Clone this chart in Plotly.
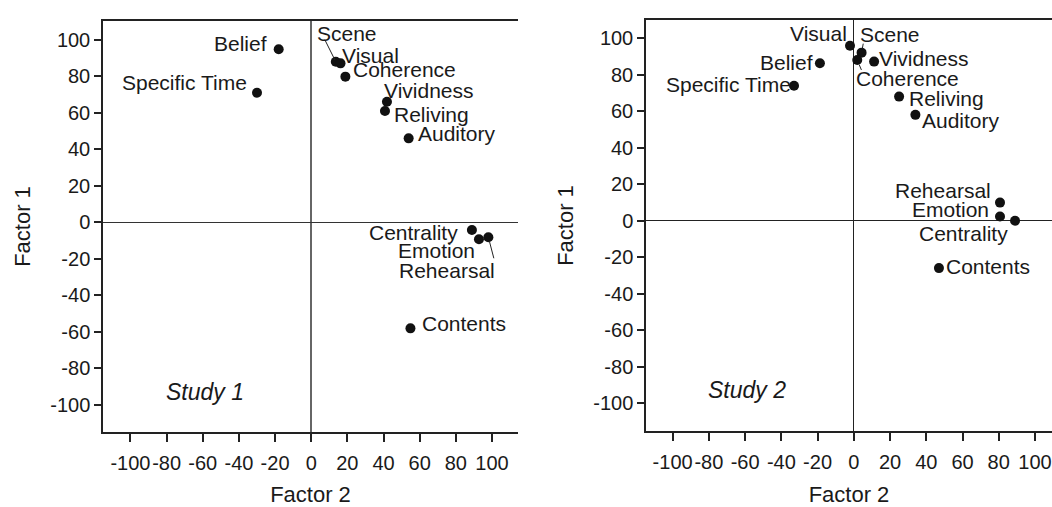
import plotly.graph_objects as go

# ---------------- data ----------------
labels1 = ["Belief", "Specific Time", "Scene", "Visual", "Coherence", "Vividness",
           "Reliving", "Auditory", "Centrality", "Emotion", "Rehearsal", "Contents"]
factor2_s1 = [-18, -30, 13.6, 16.2, 18.9, 41.9, 40.8, 53.9, 88.9, 92.8, 98, 54.9]
factor1_s1 = [94.9, 71.1, 88.1, 87.2, 79.9, 66.2, 61.1, 46.1, -4.1, -9.2, -8.1, -58]

labels2 = ["Visual", "Scene", "Coherence", "Vividness", "Belief", "Specific Time",
           "Reliving", "Auditory", "Rehearsal", "Emotion", "Centrality", "Contents"]
factor2_s2 = [-2.1, 4.3, 1.9, 11.2, -18.7, -33, 25, 34, 80.7, 80.7, 89, 47]
factor1_s2 = [95.9, 92.1, 88.1, 87.2, 86.3, 74, 68, 58, 9.9, 2.3, 0, -26]

tick_vals = [-100, -80, -60, -40, -20, 0, 20, 40, 60, 80, 100]
tick_text = ["-100", "-80", "-60", "-40", "-20", "0", "20", "40", "60", "80", "100"]

panel_titles = ["Study 1", "Study 2"]

# ---------------- label styling (pixel offsets from the dots) ----------------
# (xanchor, xshift, yshift)
lab_style1 = [("right", -11, 6), ("right", -9, 10), ("left", -20, 28), ("left", 0, 8),
              ("left", 7, 7), ("left", -4, 11), ("left", 8, -4), ("left", 8, 5),
              ("right", -13, -3), ("right", -3, -11), ("right", 8, -33), ("left", 11, 5)]
lab_style2 = [("right", -2, 12), ("left", -3, 18), ("left", -2, -19), ("left", 4, 3),
              ("right", -6, 1), ("right", -2, 1), ("left", 9, -2), ("left", 6, -6),
              ("right", -8, 12), ("right", -10, 7), ("right", -6, -13), ("left", 6, 2)]
# leader lines: (label index, ax, ay, standoff)
leaders1 = [(2, -12, -24, 2), (10, 6, 23, 4)]
leaders2 = [(1, 2, -11, 4), (2, 5, 12, 5)]

FONT = "Liberation Sans, Arial, sans-serif"
TXT = "#1a1a1a"
LAB = 21

fig = go.Figure()
fig.add_trace(go.Scatter(x=factor2_s1, y=factor1_s1, mode="markers", xaxis="x", yaxis="y",
                         marker=dict(color="#111", size=10), showlegend=False, hoverinfo="skip"))
fig.add_trace(go.Scatter(x=factor2_s2, y=factor1_s2, mode="markers", xaxis="x2", yaxis="y2",
                         marker=dict(color="#111", size=10), showlegend=False, hoverinfo="skip"))

annotations = []
for labels, xs, ys, styles, leaders, xr, yr in [
        (labels1, factor2_s1, factor1_s1, lab_style1, leaders1, "x", "y"),
        (labels2, factor2_s2, factor1_s2, lab_style2, leaders2, "x2", "y2")]:
    for lab, xv, yv, (xa, xs_, ys_) in zip(labels, xs, ys, styles):
        annotations.append(dict(x=xv, y=yv, xref=xr, yref=yr, text=lab, showarrow=False,
                                xanchor=xa, yanchor="middle", xshift=xs_, yshift=ys_,
                                borderpad=0,
                                font=dict(family=FONT, size=LAB, color=TXT)))
    for idx, ax, ay, so in leaders:
        annotations.append(dict(x=xs[idx], y=ys[idx], xref=xr, yref=yr, text=" ",
                                showarrow=True, arrowhead=0, arrowwidth=1, arrowcolor="#222",
                                ax=ax, ay=ay, standoff=so, font=dict(size=1)))

for title, xr, yr in [(panel_titles[0], "x", "y"), (panel_titles[1], "x2", "y2")]:
    annotations.append(dict(x=-59, y=-93, xref=xr, yref=yr, text="<i>" + title + "</i>",
                            showarrow=False, xanchor="center", yanchor="middle",
                            font=dict(family=FONT, size=23, color=TXT)))


def xaxis(domain, rng, zc, zw):
    return dict(domain=domain, range=rng, tickvals=tick_vals, ticktext=tick_text,
                ticks="outside", ticklen=8, tickwidth=1.5, tickcolor="#222", tickangle=0,
                ticklabelstandoff=4,
                showline=True, linewidth=1.5, linecolor="#222", mirror=True, automargin=False,
                showgrid=False, zeroline=True, zerolinecolor=zc, zerolinewidth=zw,
                tickfont=dict(family=FONT, size=20, color=TXT),
                title=dict(text="Factor 2", font=dict(family=FONT, size=22, color=TXT), standoff=15))


def yaxis(domain, rng, zc, zw):
    return dict(domain=domain, range=rng, tickvals=tick_vals, ticktext=tick_text,
                ticks="outside", ticklen=7, tickwidth=1.5, tickcolor="#222",
                showline=True, linewidth=1.5, linecolor="#222", mirror=False, automargin=False,
                showgrid=False, zeroline=True, zerolinecolor=zc, zerolinewidth=zw,
                tickfont=dict(family=FONT, size=20, color=TXT),
                title=dict(text="Factor 1", font=dict(family=FONT, size=22, color=TXT), standoff=14))


fig.update_layout(
    width=1052, height=507,
    margin=dict(l=0, r=0, t=0, b=0),
    paper_bgcolor="white", plot_bgcolor="white",
    xaxis=xaxis([103 / 1052, 518 / 1052], [-115.2, 114.4], "#666", 1.5),
    yaxis=yaxis([(507 - 432) / 507, (507 - 21) / 507], [-114.8, 110.4], "#333", 1),
    xaxis2=dict(xaxis([646 / 1052, 1.0], [-114.7, 109.4], "#222", 1), anchor="y2"),
    yaxis2=dict(yaxis([(507 - 431) / 507, (507 - 20) / 507], [-115.3, 110], "#222", 1), anchor="x2"),
    annotations=annotations,
)
fig.update_layout(xaxis=dict(anchor="y"), yaxis=dict(anchor="x"))

fig.write_html("out.html", config={"displayModeBar": False},
               post_script="document.body.style.margin='0';document.body.style.overflow='hidden';")
